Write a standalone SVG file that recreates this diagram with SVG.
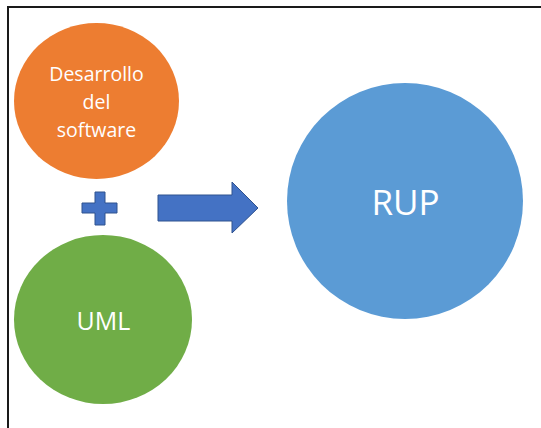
<svg xmlns="http://www.w3.org/2000/svg" width="541" height="428" viewBox="0 0 541 428">
<style>
.lbl{font-family:"Open Sans","Liberation Sans",sans-serif;fill:#ffffff;text-anchor:middle}
.conn{fill:#4472C4;stroke:#2F528F;stroke-width:1}
</style>
<rect x="0" y="0" width="541" height="428" fill="#ffffff"/>
<rect x="8" y="7" width="600" height="600" fill="none" stroke="#1a1a1a" stroke-width="2"/>
<g id="desarrollo">
<ellipse cx="96.5" cy="101" rx="82.5" ry="78" fill="#ED7D31"/>
<text class="lbl" font-size="19.5"><tspan x="96.5" y="81">Desarrollo</tspan><tspan x="96.5" y="109">del</tspan><tspan x="96.5" y="137">software</tspan></text>
</g>
<g id="uml">
<ellipse cx="103" cy="319.5" rx="89" ry="84.5" fill="#70AD47"/>
<text class="lbl" x="103.5" y="330" font-size="25">UML</text>
</g>
<g id="rup">
<circle cx="405" cy="201" r="118" fill="#5B9BD5"/>
<text class="lbl" x="405.5" y="215" font-size="35">RUP</text>
</g>
<g id="connectors">
<path class="conn" d="M95,192 H105 V203 H117 V213 H105 V225 H95 V213 H82 V203 H95 Z"/>
<path class="conn" d="M158,195 H232 V182 L258,208 L232,233 V221 H158 Z"/>
</g>
</svg>
